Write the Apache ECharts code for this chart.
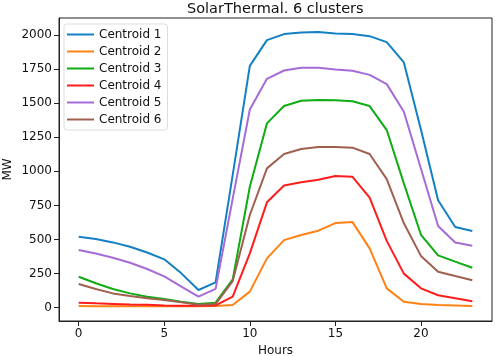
<!DOCTYPE html>
<html>
<head>
<meta charset="utf-8">
<script src="https://cdn.jsdelivr.net/npm/echarts@6/dist/echarts.min.js"></script>
<style>html,body{margin:0;padding:0;background:#fff}#c{width:498px;height:356px}</style>
</head>
<body>
<div id="c"></div>
<script>
const hours = [0,1,2,3,4,5,6,7,8,9,10,11,12,13,14,15,16,17,18,19,20,21,22,23];
const seriesNames = ['Centroid 1','Centroid 2','Centroid 3','Centroid 4','Centroid 5','Centroid 6'];
const centroid1 = [521,504,479,447,405,355,252,130,186,975,1774,1963,2007,2019,2022,2012,2007,1992,1948,1799,1305,788,592,562];
const centroid2 = [12,11,10,10,10,10,10,10,12,20,118,362,496,533,565,621,628,435,142,44,27,20,17,12];
const centroid3 = [227,179,137,105,81,64,44,27,37,208,887,1352,1479,1518,1523,1521,1514,1479,1303,912,535,384,338,293];
const centroid4 = [37,32,28,24,21,17,15,14,17,81,399,773,897,920,939,966,960,807,490,250,142,91,69,47];
const centroid5 = [423,398,367,330,284,230,154,81,138,800,1454,1679,1740,1760,1760,1748,1738,1708,1640,1437,1019,599,479,454];
const centroid6 = [174,137,105,86,69,57,40,22,27,195,680,1022,1127,1164,1178,1178,1174,1127,943,619,380,264,232,201];
const xTicks = [0,5,10,15,20];
const yTicks = [0,250,500,750,1000,1250,1500,1750,2000];
const colors = ['#1380c4','#ff8214','#0fac14','#ff1c1c','#a56bd6','#a0604f'];
const allData = [centroid1,centroid2,centroid3,centroid4,centroid5,centroid6];

const chart = echarts.init(document.getElementById('c'), null, {renderer:'canvas'});
const font = 'DejaVu Sans';
chart.setOption({
  animation:false,
  backgroundColor:'#fff',
  title:{text:'SolarThermal. 6 clusters', left:187, top:2, padding:0,
    textStyle:{fontFamily:font, fontSize:14.5, fontWeight:'normal', color:'#111'}},
  grid:{left:59, right:6, top:18, bottom:35, show:true, borderColor:'#222', borderWidth:1,
    outerBoundsMode:'none', containLabel:false},
  legend:{
    orient:'vertical', left:64, top:24, padding:[2,6,2,3],
    backgroundColor:'#fff', borderColor:'#ddd', borderWidth:1, borderRadius:3,
    icon:'rect', itemWidth:27, itemHeight:2, itemGap:0,
    textStyle:{fontFamily:font, fontSize:12, color:'#111', lineHeight:17},
    data:seriesNames
  },
  xAxis:{
    type:'value', min:-1.15, max:24.15,
    name:'Hours', nameLocation:'middle', nameGap:22,
    nameTextStyle:{fontFamily:font, fontSize:12, color:'#111'},
    axisLine:{show:true, onZero:false, lineStyle:{color:'#222', width:1}},
    axisTick:{show:true, length:5, customValues:xTicks, lineStyle:{color:'#222'}},
    axisLabel:{customValues:xTicks, formatter:v=>String(v), fontFamily:font, fontSize:12, color:'#111', margin:7},
    splitLine:{show:false}
  },
  yAxis:{
    type:'value', min:-97.5, max:2125,
    name:'MW', nameLocation:'middle', nameGap:45, nameMoveOverlap:false,
    nameTextStyle:{fontFamily:font, fontSize:12, color:'#111'},
    axisLine:{show:true, onZero:false, lineStyle:{color:'#222', width:1}},
    axisTick:{show:true, length:5, customValues:yTicks, lineStyle:{color:'#222'}},
    axisLabel:{customValues:yTicks, formatter:v=>String(v), fontFamily:font, fontSize:12, color:'#111', margin:7},
    splitLine:{show:false}
  },
  series: seriesNames.map((n,i)=>({
    name:n, type:'line', showSymbol:false, symbol:'none',
    data: hours.map((h,j)=>[h, allData[i][j]]),
    lineStyle:{width:2, color:colors[i]}, itemStyle:{color:colors[i]}
  }))
});
</script>
</body>
</html>
